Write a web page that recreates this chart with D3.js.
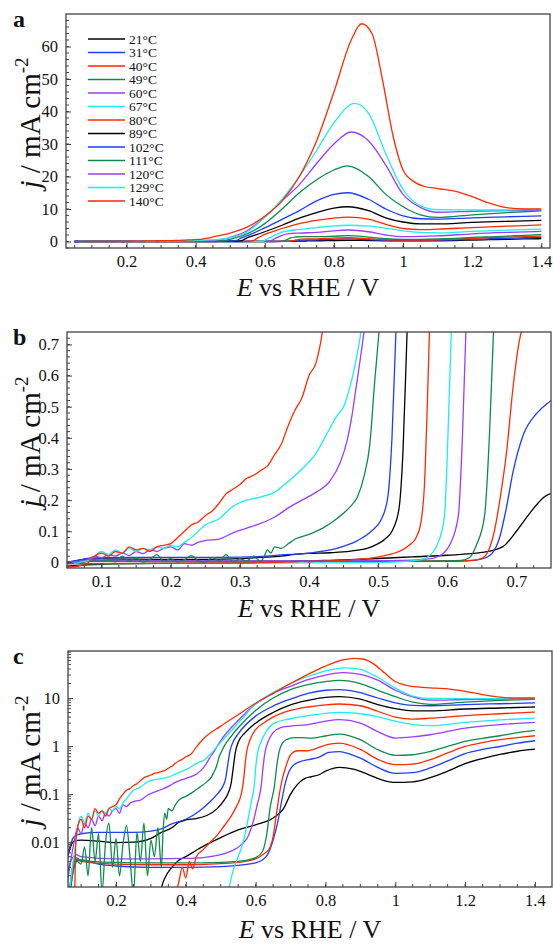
<!DOCTYPE html>
<html><head><meta charset="utf-8">
<script src="https://cdn.jsdelivr.net/npm/d3@7"></script>
<style>
body{margin:0;background:#fff}
svg{display:block}
text{font-family:"Liberation Serif","Times New Roman",serif;fill:#111}
</style>
</head><body>
<svg id="chart" width="553" height="945"></svg>
<script>
// ---------------- DATA ----------------
const temps = ["21°C","31°C","40°C","49°C","60°C","67°C","80°C","89°C","102°C","111°C","120°C","129°C","140°C"];
const colors = ["#000000","#1f3cff","#ff2a00","#0d8a4e","#9b3cff","#1aeef0","#ff2a00","#000000","#1f3cff","#0d8a4e","#9b3cff","#1aeef0","#ff2a00"];

// each series: [E (V vs RHE), j (mA cm^-2)]
const s21 = [[0.05,-0.012],[0.1,-0.006],[0.2,-0.003],[0.3,-0.0015],[0.32,0.0003],[0.33,0.0011],[0.34,0.0018],[0.36,0.003],[0.38,0.0042],[0.4,0.005],[0.43,0.0068],[0.46,0.009],[0.5,0.0125],[0.55,0.018],[0.6,0.023],[0.65,0.032],[0.68,0.05],[0.7,0.1],[0.72,0.16],[0.74,0.21],[0.76,0.23],[0.78,0.25],[0.8,0.3],[0.84,0.36],[0.88,0.33],[0.92,0.26],[0.96,0.2],[1.0,0.175],[1.05,0.18],[1.1,0.22],[1.15,0.3],[1.2,0.43],[1.25,0.55],[1.3,0.67],[1.35,0.78],[1.4,0.86]];
const s31 = [[0.05,-0.004],[0.06,0.0005],[0.07,0.0015],[0.08,0.003],[0.09,0.0042],[0.1,0.0043],[0.15,0.0035],[0.2,0.0032],[0.3,0.003],[0.4,0.003],[0.5,0.0031],[0.55,0.0033],[0.6,0.0037],[0.63,0.005],[0.65,0.011],[0.665,0.03],[0.675,0.075],[0.685,0.17],[0.695,0.29],[0.71,0.41],[0.73,0.48],[0.75,0.52],[0.78,0.58],[0.81,0.74],[0.84,0.77],[0.87,0.68],[0.9,0.56],[0.95,0.36],[1.0,0.27],[1.05,0.28],[1.1,0.35],[1.15,0.49],[1.2,0.7],[1.25,0.85],[1.3,0.98],[1.35,1.15],[1.4,1.29]];
const s40 = [[0.05,-0.004],[0.06,0.0003],[0.075,0.002],[0.085,0.0045],[0.1,0.004],[0.2,0.0035],[0.3,0.0034],[0.4,0.0034],[0.5,0.0036],[0.55,0.0038],[0.6,0.0045],[0.62,0.0055],[0.64,0.0075],[0.65,0.013],[0.66,0.04],[0.668,0.1],[0.676,0.2],[0.686,0.36],[0.695,0.56],[0.705,0.72],[0.72,0.8],[0.75,0.8],[0.8,1.05],[0.84,1.15],[0.9,0.85],[0.95,0.53],[1.0,0.41],[1.05,0.42],[1.1,0.52],[1.15,0.72],[1.2,0.98],[1.25,1.18],[1.3,1.36],[1.35,1.5],[1.4,1.64]];
const s49 = [[0.05,-0.003],[0.06,0.0003],[0.075,0.002],[0.085,0.0048],[0.1,0.0042],[0.2,0.0038],[0.3,0.0037],[0.4,0.0037],[0.5,0.0038],[0.55,0.004],[0.6,0.0048],[0.62,0.0065],[0.632,0.015],[0.642,0.055],[0.654,0.15],[0.661,0.41],[0.667,0.75],[0.675,1.1],[0.69,1.38],[0.71,1.5],[0.73,1.5],[0.76,1.47],[0.8,1.62],[0.84,1.78],[0.9,1.36],[0.95,0.84],[1.0,0.64],[1.05,0.66],[1.1,0.77],[1.15,0.98],[1.2,1.25],[1.25,1.45],[1.3,1.64],[1.35,1.9],[1.4,2.12]];
const s60 = [[0.05,-0.003],[0.06,0.0004],[0.075,0.003],[0.085,0.0055],[0.1,0.005],[0.2,0.0045],[0.3,0.0045],[0.4,0.0046],[0.45,0.0048],[0.5,0.0055],[0.53,0.0065],[0.56,0.009],[0.58,0.014],[0.595,0.03],[0.604,0.058],[0.616,0.15],[0.622,0.41],[0.627,0.75],[0.635,1.2],[0.65,1.9],[0.67,2.4],[0.7,2.6],[0.75,2.8],[0.8,3.3],[0.84,3.54],[0.9,3.0],[0.95,2.0],[1.0,1.47],[1.05,1.55],[1.1,1.72],[1.2,2.37],[1.3,2.8],[1.4,3.1]];
const s67 = [[0.05,-0.005],[0.3,-0.002],[0.5,-0.0008],[0.515,0.0003],[0.525,0.0012],[0.535,0.0025],[0.545,0.004],[0.56,0.008],[0.57,0.015],[0.58,0.035],[0.588,0.07],[0.596,0.15],[0.601,0.41],[0.606,0.75],[0.615,1.2],[0.63,2.0],[0.65,2.9],[0.7,3.7],[0.75,4.3],[0.8,4.8],[0.84,5.0],[0.9,4.7],[0.95,4.1],[1.0,3.3],[1.05,2.8],[1.1,2.65],[1.2,3.1],[1.3,3.5],[1.4,3.83]];
const s80 = [[0.05,-0.004],[0.3,-0.002],[0.36,0.0005],[0.38,0.0015],[0.39,0.003],[0.4,0.0018],[0.41,0.004],[0.42,0.0028],[0.43,0.005],[0.45,0.007],[0.47,0.01],[0.49,0.014],[0.51,0.022],[0.53,0.035],[0.545,0.055],[0.555,0.08],[0.562,0.13],[0.567,0.25],[0.571,0.5],[0.575,0.8],[0.585,1.4],[0.6,2.2],[0.625,3.1],[0.65,4.0],[0.7,5.5],[0.75,6.5],[0.8,7.2],[0.84,7.5],[0.9,6.9],[0.95,5.3],[1.0,4.0],[1.05,3.65],[1.1,3.8],[1.2,4.3],[1.3,4.7],[1.4,5.1]];
const s89 = [[0.05,0.0004],[0.06,0.004],[0.07,0.008],[0.08,0.0105],[0.1,0.011],[0.15,0.0105],[0.2,0.0098],[0.25,0.01],[0.3,0.012],[0.33,0.016],[0.36,0.02],[0.38,0.026],[0.4,0.029],[0.43,0.031],[0.46,0.036],[0.49,0.05],[0.51,0.075],[0.52,0.1],[0.53,0.17],[0.536,0.36],[0.542,0.75],[0.55,1.2],[0.57,1.9],[0.6,3.0],[0.65,5.0],[0.7,7.2],[0.75,8.9],[0.8,10.3],[0.84,10.7],[0.9,9.5],[0.95,7.3],[1.0,6.0],[1.05,5.4],[1.1,5.4],[1.2,5.9],[1.3,6.2],[1.4,6.5]];
const s102 = [[0.05,0.0004],[0.06,0.004],[0.07,0.009],[0.08,0.013],[0.1,0.015],[0.15,0.016],[0.2,0.016],[0.25,0.016],[0.3,0.017],[0.33,0.019],[0.36,0.024],[0.4,0.03],[0.44,0.045],[0.47,0.07],[0.49,0.1],[0.505,0.14],[0.514,0.21],[0.52,0.4],[0.526,0.76],[0.535,1.2],[0.55,1.8],[0.6,4.2],[0.65,6.8],[0.7,9.5],[0.75,12.5],[0.8,14.5],[0.84,15.0],[0.9,13],[0.95,10],[1.0,7.9],[1.05,7.0],[1.1,6.9],[1.2,7.3],[1.3,7.6],[1.4,7.9]];
const s111 = [[0.05,0.0003],[0.065,0.003],[0.08,0.005],[0.09,0.004],[0.1,0.0035],[0.11,0.008],[0.12,0.002],[0.13,0.02],[0.14,0.004],[0.15,0.015],[0.16,0.0009],[0.17,0.01],[0.18,0.025],[0.19,0.003],[0.2,0.012],[0.21,0.002],[0.22,0.009],[0.23,0.022],[0.24,0.005],[0.25,0.0008],[0.26,0.016],[0.27,0.004],[0.28,0.025],[0.29,0.002],[0.3,0.011],[0.31,0.005],[0.32,0.02],[0.33,0.003],[0.335,0.018],[0.34,0.04],[0.345,0.03],[0.35,0.05],[0.36,0.045],[0.37,0.06],[0.38,0.075],[0.4,0.09],[0.42,0.11],[0.44,0.14],[0.46,0.18],[0.47,0.21],[0.48,0.28],[0.488,0.38],[0.495,0.58],[0.502,0.76],[0.51,1.0],[0.53,1.6],[0.55,2.4],[0.6,5.5],[0.65,10],[0.7,15],[0.75,19],[0.8,22],[0.84,23.3],[0.9,20],[0.95,14.5],[1.0,10.7],[1.05,8.2],[1.1,7.4],[1.2,8.2],[1.3,8.9],[1.4,9.4]];
const s120 = [[0.05,0.0003],[0.07,0.004],[0.08,0.01],[0.09,0.02],[0.1,0.015],[0.11,0.025],[0.12,0.02],[0.13,0.03],[0.14,0.022],[0.15,0.035],[0.16,0.028],[0.17,0.04],[0.18,0.035],[0.19,0.045],[0.2,0.05],[0.21,0.04],[0.22,0.06],[0.23,0.055],[0.24,0.065],[0.25,0.07],[0.27,0.075],[0.29,0.095],[0.31,0.11],[0.33,0.125],[0.35,0.145],[0.37,0.175],[0.39,0.2],[0.41,0.225],[0.43,0.26],[0.445,0.32],[0.455,0.39],[0.462,0.47],[0.468,0.56],[0.474,0.65],[0.48,0.75],[0.5,1.3],[0.55,3.4],[0.6,7.5],[0.65,12.5],[0.7,17.5],[0.75,24],[0.8,30],[0.85,33.7],[0.9,31],[0.95,23.5],[1.0,14.5],[1.05,10.5],[1.1,9.0],[1.2,9.3],[1.3,9.5],[1.4,9.6]];
const s129 = [[0.06,-0.003],[0.075,0.003],[0.085,0.01],[0.09,0.02],[0.1,0.035],[0.11,0.025],[0.12,0.04],[0.13,0.03],[0.14,0.045],[0.15,0.035],[0.16,0.045],[0.17,0.04],[0.18,0.05],[0.19,0.045],[0.2,0.055],[0.21,0.05],[0.22,0.065],[0.23,0.08],[0.24,0.1],[0.25,0.12],[0.27,0.14],[0.29,0.18],[0.31,0.2],[0.33,0.21],[0.35,0.225],[0.37,0.26],[0.39,0.3],[0.41,0.35],[0.43,0.43],[0.44,0.47],[0.45,0.5],[0.46,0.57],[0.468,0.65],[0.476,0.75],[0.5,1.2],[0.55,3.0],[0.6,7.5],[0.65,13],[0.7,20],[0.75,28],[0.8,36.5],[0.86,42.5],[0.9,39.5],[0.95,27],[1.0,16],[1.05,11],[1.1,9.8],[1.2,9.7],[1.3,9.7],[1.4,9.8]];
const s140 = [[0.05,-0.015],[0.07,-0.01],[0.08,-0.002],[0.085,0.01],[0.09,0.02],[0.1,0.03],[0.11,0.02],[0.12,0.035],[0.13,0.03],[0.14,0.05],[0.15,0.04],[0.16,0.045],[0.17,0.035],[0.18,0.05],[0.19,0.055],[0.2,0.06],[0.21,0.08],[0.22,0.1],[0.23,0.12],[0.24,0.13],[0.25,0.15],[0.26,0.165],[0.27,0.19],[0.28,0.22],[0.29,0.235],[0.3,0.25],[0.31,0.27],[0.32,0.28],[0.33,0.295],[0.34,0.31],[0.35,0.345],[0.36,0.38],[0.37,0.44],[0.38,0.49],[0.39,0.53],[0.4,0.6],[0.41,0.64],[0.42,0.75],[0.43,0.95],[0.45,1.4],[0.5,2.6],[0.55,4.5],[0.6,7.8],[0.65,12.5],[0.7,20],[0.75,31],[0.8,46],[0.85,62],[0.88,67],[0.91,64],[0.94,50],[0.97,33],[1.0,22],[1.03,18.5],[1.06,17],[1.1,16.3],[1.15,15.5],[1.2,13.8],[1.25,11.8],[1.3,10.4],[1.35,10.0],[1.4,10.0]];
const seriesList = [s21,s31,s40,s49,s60,s67,s80,s89,s102,s111,s120,s129,s140];

// tick labels
const aXTicks = [0.2,0.4,0.6,0.8,1.0,1.2,1.4];
const aXLabels = ["0.2","0.4","0.6","0.8","1","1.2","1.4"];
const aYTicks = [0,10,20,30,40,50,60];
const aYLabels = ["0","10","20","30","40","50","60"];
const bXTicks = [0.1,0.2,0.3,0.4,0.5,0.6,0.7];
const bXLabels = ["0.1","0.2","0.3","0.4","0.5","0.6","0.7"];
const bYTicks = [0,0.1,0.2,0.3,0.4,0.5,0.6,0.7];
const bYLabels = ["0","0.1","0.2","0.3","0.4","0.5","0.6","0.7"];
const cYTicks = [0.01,0.1,1,10];
const cYLabels = ["0.01","0.1","1","10"];

// ---------------- DRAW ----------------
const svg = d3.select("#chart");
const defs = svg.append("defs");

function drawPanel(o){
  const x = d3.scaleLinear().domain(o.xd).range([o.l,o.r]);
  const y = (o.log ? d3.scaleLog() : d3.scaleLinear()).domain(o.yd).range([o.b,o.t]);
  const g = svg.append("g");
  defs.append("clipPath").attr("id","clip"+o.name).append("rect")
    .attr("x",o.l).attr("y",o.t).attr("width",o.r-o.l).attr("height",o.b-o.t);
  const yv = d => o.log ? Math.max(d[1], o.yd[0]*0.3) : d[1];
  const line = d3.line().x(d=>x(d[0])).y(d=>y(yv(d))).curve(d3.curveMonotoneX);
  const lg = g.append("g").attr("clip-path",`url(#clip${o.name})`);
  seriesList.forEach((s,i)=>{
    lg.append("path").attr("d",line(s)).attr("fill","none")
      .attr("stroke",colors[i]).attr("stroke-width",1.3).attr("stroke-linejoin","round");
  });
  const mg = g.append("g").attr("stroke","#444").attr("stroke-width",1);
  o.xMinor.filter(v=>v>=o.xd[0]&&v<=o.xd[1]).forEach(v=>{
    mg.append("line").attr("x1",x(v)).attr("x2",x(v)).attr("y1",o.b).attr("y2",o.b-3);
  });
  o.yMinor.filter(v=>v>=o.yd[0]&&v<=o.yd[1]).forEach(v=>{
    mg.append("line").attr("y1",y(v)).attr("y2",y(v)).attr("x1",o.l).attr("x2",o.l+3);
  });
  const xa = g.append("g").attr("transform",`translate(0,${o.b})`)
    .call(d3.axisBottom(x).tickValues(o.xt).tickFormat((d,i)=>o.xl[i]).tickSize(-5).tickPadding(7));
  const ya = g.append("g").attr("transform",`translate(${o.l},0)`)
    .call(d3.axisLeft(y).tickValues(o.yt).tickFormat((d,i)=>o.yl[i]).tickSize(-5).tickPadding(8));
  [xa,ya].forEach(a=>{
    a.select(".domain").remove();
    a.selectAll("line").attr("stroke","#444");
    a.selectAll("text").attr("font-size",16.5).attr("fill","#111").attr("font-family","Liberation Serif, serif");
  });
  g.append("rect").attr("x",o.l).attr("y",o.t).attr("width",o.r-o.l).attr("height",o.b-o.t)
    .attr("fill","none").attr("stroke","#444").attr("stroke-width",1.3);
  svg.append("text").attr("x",13).attr("y",o.t+13).attr("font-size",24).attr("font-weight","bold").text(o.name);
  const xt = svg.append("text").attr("x",(o.l+o.r)/2).attr("y",o.xTitleY).attr("text-anchor","middle").attr("font-size",26);
  xt.append("tspan").attr("font-style","italic").text("E");
  xt.append("tspan").text(" vs RHE / V");
  const yt = svg.append("text").attr("transform",`translate(${o.yTitleX},${(o.t+o.b)/2 - 8}) rotate(-90)`)
    .attr("text-anchor","middle").attr("font-size",29);
  yt.append("tspan").attr("font-style","italic").text("j");
  yt.append("tspan").text(" / mA cm");
  yt.append("tspan").attr("font-size",19).attr("dy",-12).text("-2");
  return {x,y};
}

drawPanel({name:"a", l:66, r:550, t:14, b:248, xd:[0.025,1.425], yd:[-2,70], log:false,
  xt:aXTicks, xl:aXLabels, yt:aYTicks, yl:aYLabels,
  xMinor:d3.range(0.05,1.42,0.05), yMinor:d3.range(-2,70,2),
  xTitleY:296, yTitleX:40});

drawPanel({name:"b", l:67, r:551, t:332, b:568, xd:[0.05,0.75], yd:[-0.018,0.74], log:false,
  xt:bXTicks, xl:bXLabels, yt:bYTicks, yl:bYLabels,
  xMinor:d3.range(0.05,0.751,0.025), yMinor:d3.range(0,0.74,0.02),
  xTitleY:617, yTitleX:40});

const cMinor = [];
[0.001,0.01,0.1,1,10].forEach(dec=>{ for(let k=2;k<=9;k++) cMinor.push(dec*k); });
drawPanel({name:"c", l:68, r:552, t:651, b:887, xd:[0.0625,1.449], yd:[0.00117,95], log:true,
  xt:aXTicks, xl:aXLabels, yt:cYTicks, yl:cYLabels,
  xMinor:d3.range(0.1,1.45,0.05), yMinor:cMinor,
  xTitleY:938, yTitleX:40});

const leg = svg.append("g");
temps.forEach((t,i)=>{
  const yy = 39 + i*13.5;
  leg.append("line").attr("x1",88).attr("x2",125).attr("y1",yy).attr("y2",yy)
    .attr("stroke",colors[i]).attr("stroke-width",1.5);
  leg.append("text").attr("x",129).attr("y",yy+4.5).attr("font-size",13.5).text(t);
});
</script>
</body></html>
